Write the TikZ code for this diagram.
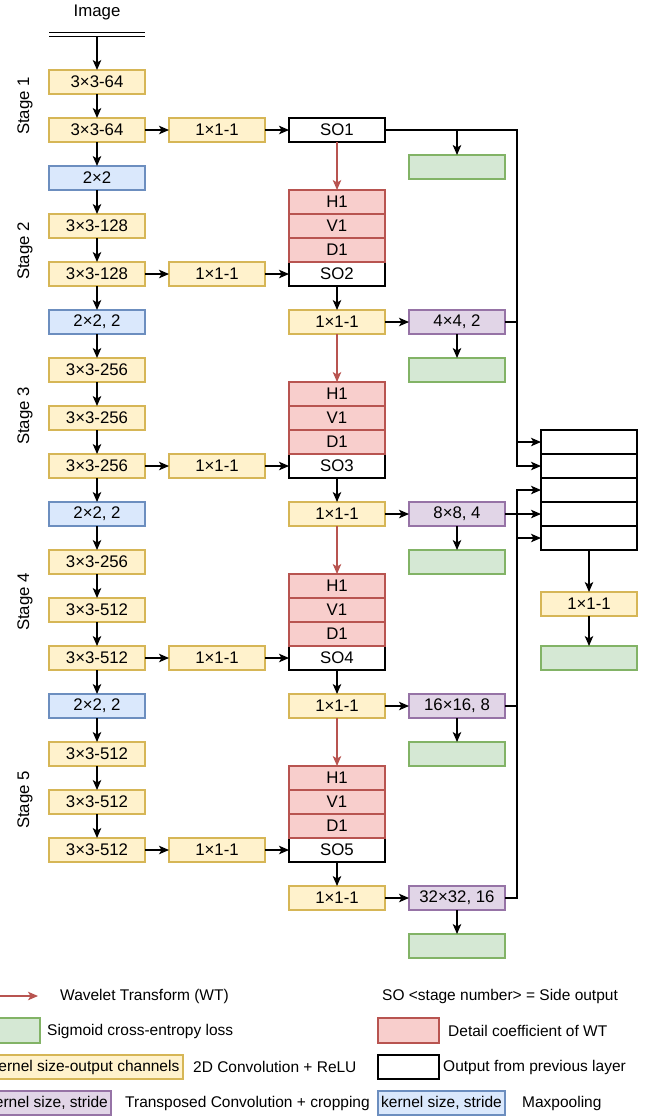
\documentclass[tikz,border=0pt]{standalone}
\usepackage{fontspec}
\setmainfont{Liberation Sans}
\usetikzlibrary{arrows.meta, positioning, calc}
\definecolor{convfill}{HTML}{FFF2CC}
\definecolor{convline}{HTML}{D6B656}
\definecolor{poolfill}{HTML}{DAE8FC}
\definecolor{poolline}{HTML}{6C8EBF}
\definecolor{lossfill}{HTML}{D5E8D4}
\definecolor{lossline}{HTML}{82B366}
\definecolor{wtfill}{HTML}{F8CECC}
\definecolor{wtline}{HTML}{B85450}
\definecolor{upfill}{HTML}{E1D5E7}
\definecolor{upline}{HTML}{9673A6}
\newcommand{\boxfont}{\fontsize{16.8}{19}\selectfont}
\newcommand{\legfont}{\fontsize{15.5}{18}\selectfont}
\tikzset{
  conv/.style={rectangle, draw=convline, line width=1.2pt, fill=convfill,
    minimum width=96pt, minimum height=24pt, inner sep=0pt, outer sep=0pt, font=\boxfont},
  pool/.style={conv, draw=poolline, fill=poolfill},
  upconv/.style={conv, draw=upline, fill=upfill},
  loss/.style={conv, draw=lossline, fill=lossfill},
  detail/.style={conv, draw=wtline, fill=wtfill},
  sideout/.style={conv, draw=black, fill=white},
  arrow/.style={-{Stealth[length=10pt, width=8.5pt, inset=2.5pt]}, line width=1.2pt, black},
  arroww/.style={arrow, wtline},
  stagelbl/.style={rotate=90, font=\boxfont},
  legtext/.style={anchor=west, inner sep=0pt, font=\legfont},
}

\begin{document}
\begin{tikzpicture}[x=1pt, y=-1pt, node distance=24pt]
\useasboundingbox (0,0) rectangle (657,1117);
% input
\node[font=\boxfont] (img) at (97,12) {Image};
\coordinate (inL) at (49,34.5);
\coordinate (inR) at (145,34.5);
\coordinate (inp) at (97,36.5);
\draw[line width=1.2pt, double=white, double distance=3pt] (inL) -- (inR);
% encoder
\node[conv] (c11) at (97,82) {3×3-64};
\node[conv, below=of c11] (c12) {3×3-64};
\node[pool, below=of c12] (p1) {2×2};
\node[conv, below=of p1] (c21) {3×3-128};
\node[conv, below=of c21] (c22) {3×3-128};
\node[pool, below=of c22] (p2) {2×2, 2};
\node[conv, below=of p2] (c31) {3×3-256};
\node[conv, below=of c31] (c32) {3×3-256};
\node[conv, below=of c32] (c33) {3×3-256};
\node[pool, below=of c33] (p3) {2×2, 2};
\node[conv, below=of p3] (c41) {3×3-256};
\node[conv, below=of c41] (c42) {3×3-512};
\node[conv, below=of c42] (c43) {3×3-512};
\node[pool, below=of c43] (p4) {2×2, 2};
\node[conv, below=of p4] (c51) {3×3-512};
\node[conv, below=of c51] (c52) {3×3-512};
\node[conv, below=of c52] (c53) {3×3-512};
\node[stagelbl] (st1) at (25,106) {Stage 1};
\node[stagelbl] (st2) at (25,251) {Stage 2};
\node[stagelbl] (st3) at (25,416) {Stage 3};
\node[stagelbl] (st4) at (25,602) {Stage 4};
\node[stagelbl] (st5) at (25,800) {Stage 5};
% side outputs
\node[conv, right=of c12] (s1) {1×1-1};
\node[sideout, right=of s1] (so1) {SO1};
\node[loss] (l1) at (457,167) {};
\node[conv, right=of c22] (s2) {1×1-1};
\node[sideout, right=of s2] (so2) {SO2};
\node[conv, right=of c33] (s3) {1×1-1};
\node[sideout, right=of s3] (so3) {SO3};
\node[conv, right=of c43] (s4) {1×1-1};
\node[sideout, right=of s4] (so4) {SO4};
\node[conv, right=of c53] (s5) {1×1-1};
\node[sideout, right=of s5] (so5) {SO5};
% wavelet details
\foreach \n in {2,...,5}{
  \node[detail, above=0pt of so\n] (d\n) {D1};
  \node[detail, above=0pt of d\n] (v\n) {V1};
  \node[detail, above=0pt of v\n] (h\n) {H1};
  \node[conv, below=of so\n] (f\n) {1×1-1};
}
\node[upconv, right=of f2] (up2) {4×4, 2};
\node[upconv, right=of f3] (up3) {8×8, 4};
\node[upconv, right=of f4] (up4) {16×16, 8};
\node[upconv, right=of f5] (up5) {32×32, 16};
\foreach \n in {2,...,5}
  \node[loss, below=of up\n] (l\n) {};
% fusion
\node[sideout, right=36pt of up3] (cat4) {};
\node[sideout, above=0pt of cat4] (cat3) {};
\node[sideout, above=0pt of cat3] (cat2) {};
\node[sideout, above=0pt of cat2] (cat1) {};
\node[sideout, below=0pt of cat4] (cat5) {};
\node[conv, below=42pt of cat5] (fin) {1×1-1};
\node[loss, below=30pt of fin] (lfin) {};
\coordinate (bus) at (517,0);
% connectors
\draw[arrow] (inp) -- (c11);
\foreach \a/\b in {c11/c12, c12/p1, p1/c21, c21/c22, c22/p2, p2/c31, c31/c32, c32/c33,
  c33/p3, p3/c41, c41/c42, c42/c43, c43/p4, p4/c51, c51/c52, c52/c53}
  \draw[arrow] (\a) -- (\b);
\foreach \c/\n in {c12/1, c22/2, c33/3, c43/4, c53/5}{
  \draw[arrow] (\c) -- (s\n);
  \draw[arrow] (s\n) -- (so\n);
}
\foreach \a/\b in {so1/h2, f2/h3, f3/h4, f4/h5}
  \draw[arroww] (\a) -- (\b);
\foreach \n in {2,...,5}{
  \draw[arrow] (so\n) -- (f\n);
  \draw[arrow] (f\n) -- (up\n);
  \draw[arrow] (up\n) -- (l\n);
}
\draw[arrow] (so1.east) -| (bus |- cat1.west) -- (cat1.west);
\draw[arrow] (l1.north |- so1.east) -- (l1);
\draw[arrow] (up2.east) -| (bus |- cat2.west) -- (cat2.west);
\draw[arrow] (up5.east) -| (bus |- cat3.west) -- (cat3.west);
\draw[arrow] (up3) -- (cat4);
\draw[arrow] (up4.east) -| (bus |- cat5.west) -- (cat5.west);
\draw[arrow] (cat5) -- (fin);
\draw[arrow] (fin) -- (lfin);
% legend
\coordinate (wtA) at (-22,996);
\coordinate (wtB) at (38,996);
\draw[arroww] (wtA) -- (wtB);
\node[legtext] (lgWTt) at (60,996) {Wavelet Transform (WT)};
\node[legtext] (lgSOt) at (382,996) {SO <stage number> = Side output};
\node[loss, minimum width=61pt, minimum height=25pt] (lgLoss) at (9.5,1030.5) {};
\node[legtext] (lgLosst) at (47,1031) {Sigmoid cross-entropy loss};
\node[detail, minimum width=61pt, minimum height=25pt] (lgWT) at (408.5,1030.5) {};
\node[legtext] (lgWTbt) at (448,1031) {Detail coefficient of WT};
\node[conv, minimum width=196pt, font=\legfont] (lgConv) at (85,1067) {kernel size-output channels};
\node[legtext] (lgConvt) at (193,1067) {2D Convolution + ReLU};
\node[sideout, minimum width=61pt] (lgSO) at (408.5,1067) {};
\node[legtext] (lgSOt2) at (443,1067) {Output from previous layer};
\node[upconv, minimum width=127pt, font=\legfont] (lgUp) at (47.5,1103) {kernel size, stride};
\node[legtext] (lgUpt) at (125,1103) {Transposed Convolution + cropping};
\node[pool, minimum width=127pt, font=\legfont] (lgPool) at (441.5,1103) {kernel size, stride};
\node[legtext] (lgPoolt) at (522,1103) {Maxpooling};
\end{tikzpicture}
\end{document}
